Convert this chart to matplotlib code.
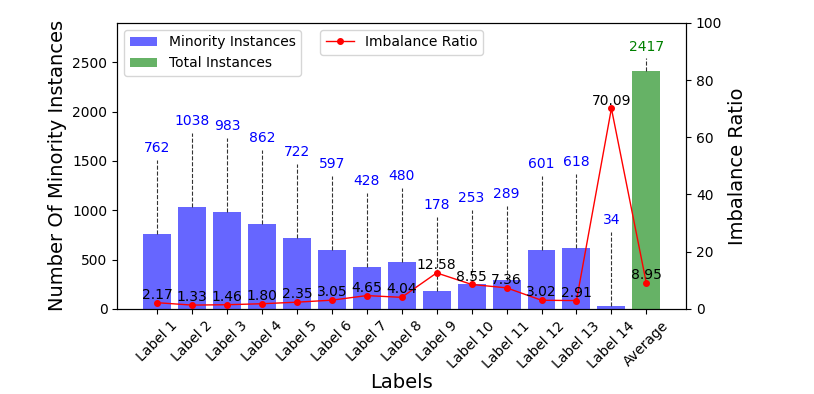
import matplotlib
matplotlib.use('Agg')
import matplotlib.pyplot as plt
import numpy as np

labels = ['Label 1', 'Label 2', 'Label 3', 'Label 4', 'Label 5', 'Label 6', 'Label 7',
          'Label 8', 'Label 9', 'Label 10', 'Label 11', 'Label 12', 'Label 13', 'Label 14']
minority = [762, 1038, 983, 862, 722, 597, 428, 480, 178, 253, 289, 601, 618, 34]
total_avg = 2417
ratio = [2.17, 1.33, 1.46, 1.80, 2.35, 3.05, 4.65, 4.04, 12.58, 8.55, 7.36, 3.02, 2.91, 70.09]
ratio_avg = 8.95

x = np.arange(len(labels) + 1)
ymax = total_avg * 1.2

fig, ax1 = plt.subplots(figsize=(8.14, 3.94), dpi=100)
fig.subplots_adjust(left=0.144, right=0.843, bottom=0.216, top=0.942)

ax1.bar(x[:-1], minority, width=0.8, color='blue', alpha=0.6, label='Minority Instances')
ax1.bar(x[-1], total_avg, width=0.8, color='green', alpha=0.6, label='Total Instances')

# dashed leaders up to the count labels
for i, v in enumerate(minority):
    ax1.plot([x[i], x[i]], [v, v + 750], color='#333333', ls='--', lw=0.8)
    ax1.text(x[i], v + 800, str(v), ha='center', va='bottom', color='blue', fontsize=10)
ax1.plot([x[-1], x[-1]], [total_avg, total_avg + 125], color='#333333', ls='--', lw=0.8)
ax1.text(x[-1], total_avg + 170, str(total_avg), ha='center', va='bottom', color='green', fontsize=10)

ax1.set_ylim(0, ymax)
ax1.set_ylabel('Number Of Minority Instances', fontsize=14)
ax1.set_xlabel('Labels', fontsize=14, labelpad=1.5)
ax1.set_xticks(x)
ax1.set_xticklabels(labels + ['Average'], rotation=45, fontsize=10)
ax1.legend(loc='upper left', fontsize=10)

ax2 = ax1.twinx()
r = ratio + [ratio_avg]
ax2.plot(x, r, 'r-', marker='o', ms=4, lw=1.0, label='Imbalance Ratio')
for i, v in enumerate(r):
    ax2.text(x[i], v + 0.3, '%.2f' % v, ha='center', va='bottom', color='black', fontsize=10)
ax2.set_ylim(0, 100)
ax2.set_ylabel('Imbalance Ratio', fontsize=14)
ax2.legend(loc='upper center', fontsize=10)

plt.savefig('out.png')
